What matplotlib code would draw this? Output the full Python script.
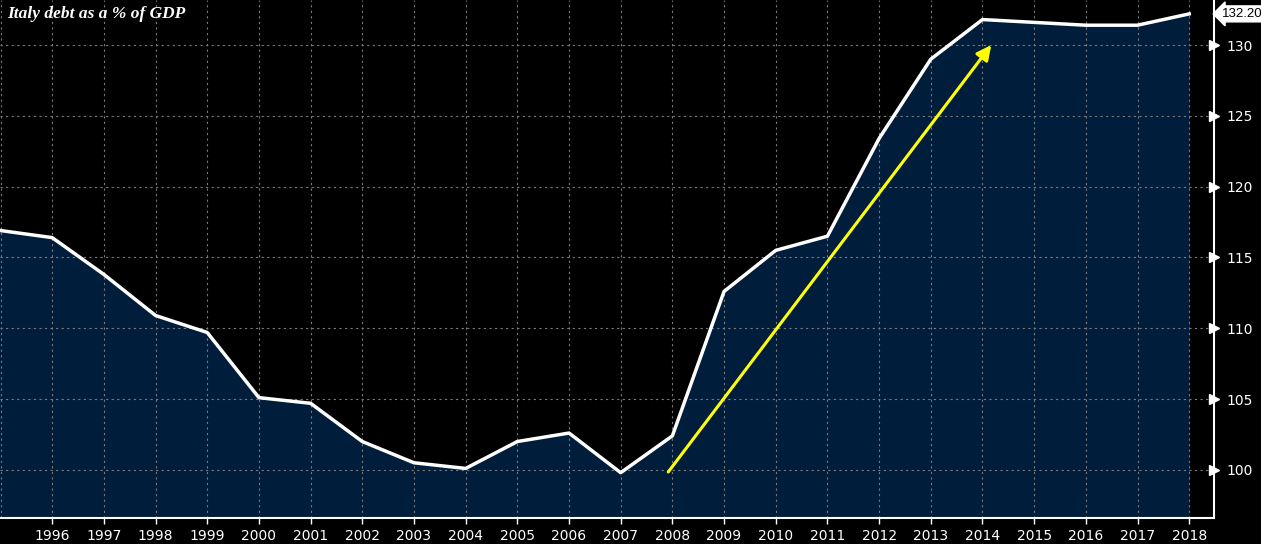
import numpy as np
from matplotlib import pyplot as plt

years = list(range(1995, 2019))
debt = [116.9, 116.4, 113.8, 110.9, 109.7, 105.1, 104.7, 102.0, 100.5, 100.1,
        102.0, 102.6, 99.8, 102.4, 112.6, 115.5, 116.5, 123.4, 129.0, 131.8,
        131.6, 131.4, 131.4, 132.2]
arrow_start = (2007.92, 99.85)
arrow_end = (2014.17, 130.0)
yticks = [100, 105, 110, 115, 120, 125, 130]

fig = plt.figure(figsize=(12.61, 5.44), dpi=100, facecolor='black')
ax = fig.add_axes([0, 26 / 544, 1214 / 1261, 1 - 26 / 544])
ax.set_facecolor('black')

ax.fill_between(years, debt, 90, color='#001d3b', zorder=1)
ax.plot(years, debt, color='white', lw=2.5, zorder=3)

ax.annotate('', xy=arrow_end, xytext=arrow_start,
            arrowprops=dict(arrowstyle='-|>', color='#ffff00', lw=2.2,
                            mutation_scale=22, shrinkA=0, shrinkB=0),
            zorder=4)

ax.set_xlim(1994.99, 2018.48)
ax.set_ylim(96.6, 133.18)

ax.set_xticks(years[1:])
ax.set_xticklabels([str(y) for y in years[1:]])
ax.set_xticks(years, minor=True)
ax.set_yticks(yticks)

grid_style = dict(color='#7a7a7a', ls=(0, (2, 3)), lw=0.8)
ax.grid(True, which='major', **grid_style)
ax.xaxis.grid(True, which='minor', **grid_style)

ax.yaxis.tick_right()
ax.tick_params(axis='x', which='major', colors='white', labelcolor='white',
               labelsize=10, length=4, width=1, direction='out', pad=4)
ax.tick_params(axis='x', which='minor', length=0)
ax.tick_params(axis='y', colors='white', labelcolor='white', labelsize=10,
               length=0, pad=9)

for y in yticks:
    ax.plot([1.0], [y], marker='>', color='white', markersize=7,
            transform=ax.get_yaxis_transform(), clip_on=False, zorder=5)

for side in ['top', 'left']:
    ax.spines[side].set_visible(False)
for side in ['bottom', 'right']:
    ax.spines[side].set_color('white')
    ax.spines[side].set_linewidth(1.5)

ax.text(0.006, 0.988, 'Italy debt as a % of GDP', transform=ax.transAxes,
        color='white', fontsize=12.5, fontweight='bold', style='italic',
        family='Liberation Serif', va='top', ha='left')

ax.annotate(f'{debt[-1]:.2f}', xy=(1.0, debt[-1]), xycoords=ax.get_yaxis_transform(),
            xytext=(5.5, 0), textcoords='offset points', va='center', ha='left',
            fontsize=9.5, color='black', family='Liberation Sans',
            bbox=dict(boxstyle='larrow,pad=0.15', fc='white', ec='white'),
            annotation_clip=False)

fig.savefig('out.png', dpi=100, facecolor='black')
